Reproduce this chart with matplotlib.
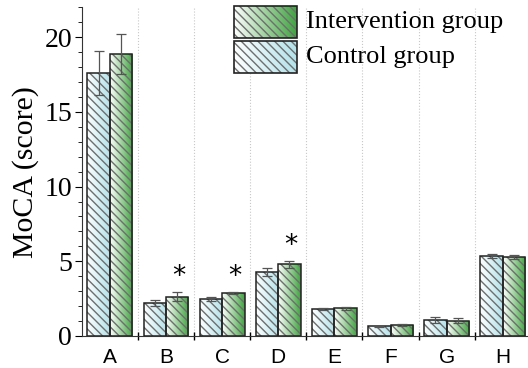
import numpy as np
import matplotlib.pyplot as plt
from matplotlib.colors import LinearSegmentedColormap
from matplotlib.patches import Rectangle

# MoCA scores per domain
categories = ["A", "B", "C", "D", "E", "F", "G", "H"]
control = [17.6, 2.23, 2.48, 4.31, 1.79, 0.65, 1.05, 5.38]
control_err = [1.5, 0.2, 0.12, 0.27, 0.08, 0.05, 0.2, 0.13]
intervention = [18.87, 2.63, 2.86, 4.8, 1.85, 0.71, 1.02, 5.31]
intervention_err = [1.35, 0.3, 0.08, 0.22, 0.08, 0.07, 0.17, 0.13]
significant = ["B", "C", "D"]

cmap_ctrl = LinearSegmentedColormap.from_list("ctrl", ["#ffffff", "#b2e2ea"])
cmap_int = LinearSegmentedColormap.from_list("int", ["#ffffff", "#3fa43f"])
grad = np.linspace(0, 1, 256).reshape(1, -1)

fig = plt.figure(figsize=(5.28, 3.68), dpi=100)
ax = fig.add_axes([0.155, 0.087, 0.845, 0.893])

x = np.arange(len(categories))
w = 0.4


# bar with left-to-right gradient, diagonal hatch and dark outline
def gradient_bars(xs, heights, errs, cmap):
    bars = ax.bar(xs, heights, w, facecolor="none", edgecolor="none", zorder=2)
    for b in bars:
        x0, y0 = b.get_x(), b.get_y()
        im = ax.imshow(grad, cmap=cmap, aspect="auto", zorder=2,
                       extent=[x0, x0 + b.get_width(), y0, y0 + b.get_height()])
        im.set_clip_path(b)
    ax.bar(xs, heights, w, facecolor="none", edgecolor="#6e6e6e",
           hatch="\\\\\\\\", linewidth=0, zorder=3)
    ax.bar(xs, heights, w, facecolor="none", edgecolor="#222222",
           linewidth=1.1, zorder=4)
    ax.errorbar(xs, heights, yerr=errs, fmt="none", ecolor="#555555",
                elinewidth=0.9, capsize=3.5, capthick=0.9, zorder=5)


gradient_bars(x - w / 2, control, control_err, cmap_ctrl)
gradient_bars(x + w / 2, intervention, intervention_err, cmap_int)

for c in significant:
    i = categories.index(c)
    ax.text(i + w / 2 + 0.02, intervention[i] + intervention_err[i] + 1.0, "*",
            ha="center", va="center", fontsize=19, fontfamily="DejaVu Sans")

# legend drawn by hand so the swatches get the gradient too
for k, (cm, label) in enumerate([(cmap_int, "Intervention group"),
                                  (cmap_ctrl, "Control group")]):
    lx, ly, lw, lh = 0.341, 0.908 - k * 0.107, 0.141, 0.096
    r = Rectangle((lx, ly), lw, lh, transform=ax.transAxes, facecolor="none",
                  edgecolor="none", zorder=6, clip_on=False)
    ax.add_patch(r)
    im = ax.imshow(grad, cmap=cm, aspect="auto", zorder=6, clip_on=False,
                   extent=[lx, lx + lw, ly, ly + lh], transform=ax.transAxes)
    im.set_clip_path(r)
    ax.add_patch(Rectangle((lx, ly), lw, lh, transform=ax.transAxes,
                           facecolor="none", edgecolor="#6e6e6e", clip_on=False,
                           hatch="\\\\\\\\", linewidth=0, zorder=7))
    ax.add_patch(Rectangle((lx, ly), lw, lh, transform=ax.transAxes,
                           facecolor="none", edgecolor="#222222", clip_on=False,
                           linewidth=1.2, zorder=8))
    ax.text(lx + lw + 0.02, ly + lh / 2, label, transform=ax.transAxes,
            ha="left", va="center", fontsize=19, fontfamily="Liberation Serif")

ax.set_xlim(-0.5, 7.45)
ax.set_ylim(0, 22)
ax.set_xticks(x)
ax.set_xticklabels(categories, fontfamily="Liberation Sans", fontsize=15)
ax.set_xticks(np.arange(0.5, 7.5, 1), minor=True)
ax.tick_params(axis="x", which="major", length=0, pad=9)
ax.tick_params(axis="x", which="minor", direction="inout", length=6, width=1)
ax.set_yticks([0, 5, 10, 15, 20])
ax.set_yticks(np.arange(0, 23, 1), minor=True)
ax.tick_params(axis="y", which="major", direction="out", length=5, labelsize=20, pad=2)
ax.tick_params(axis="y", which="minor", direction="out", length=3)
for lab in ax.get_yticklabels():
    lab.set_fontfamily("Liberation Serif")
ax.set_ylabel("MoCA (score)", fontfamily="Liberation Serif", fontsize=21.5, labelpad=4)

ax.grid(axis="x", which="minor", linestyle=":", color="#c8c8c8", linewidth=0.8)
ax.set_axisbelow(True)
ax.spines["top"].set_visible(False)
ax.spines["right"].set_visible(False)
ax.spines["left"].set_color("#333333")
ax.spines["bottom"].set_color("#333333")

fig.savefig("out.png", dpi=100)
